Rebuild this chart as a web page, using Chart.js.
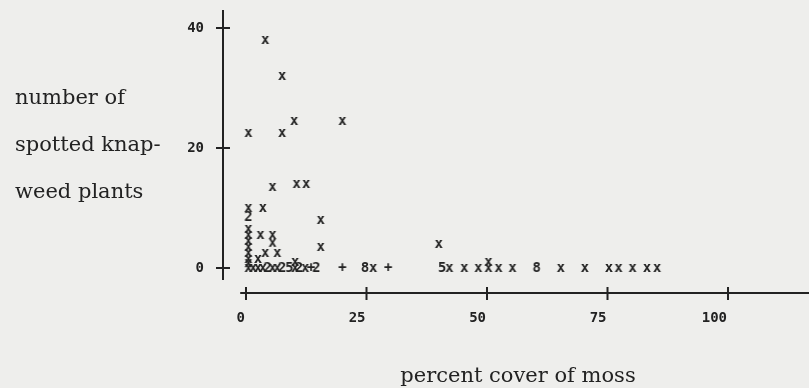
<!DOCTYPE html>
<html>
<head>
<meta charset="utf-8">
<script src="https://cdn.jsdelivr.net/npm/chart.js@4/dist/chart.umd.min.js"></script>
<style>
  html, body { margin: 0; padding: 0; background: #eeeeec; }
  #wrap { width: 809px; height: 388px; }
</style>
</head>
<body>
<div id="wrap"><canvas id="mossChart" width="809" height="388"></canvas></div>
<script>
// percent cover of moss (x), knapweed plant count (y), and the character printed at each spot
const moss = [
    4, 7.5, 0.5, 7.5, 10, 20, 5.5, 10.5, 12.5, 0.5, 3.5, 0.5, 15.5, 15.5, 40,
    0.5, 0.5, 0.5, 0.5, 0.5, 0.5, 0.5,
    3, 5.5, 5.5, 4, 6.5, 2.5,
    0.5, 1.5, 2.5, 3.5, 4.5, 5.5, 6.5, 7.5, 9, 10.2, 10.2, 11, 12.3, 13.5, 14.6,
    20, 24.7, 26.4, 29.5, 40.7, 42.2, 45.3, 48.2, 50.3, 50.3, 52.4, 55.3, 60.3,
    65.3, 70.3, 75.3, 77.3, 80.2, 83.2, 85.3
]
const plants = [
    38, 32, 22.5, 22.5, 24.5, 24.5, 13.5, 14, 14, 10, 10, 8.5, 8, 3.5, 4,
    6.5, 5.5, 4.5, 3.5, 2.5, 1.5, 0.8,
    5.5, 5.5, 4.2, 2.5, 2.5, 1.5,
    0, 0, 0, 0, 0, 0, 0, 0, 0, 0, 1, 0, 0, 0, 0,
    0, 0, 0, 0, 0, 0, 0, 0, 0, 1, 0, 0, 0,
    0, 0, 0, 0, 0, 0, 0
]
const marks = [
    'x', 'x', 'x', 'x', 'x', 'x', 'x', 'x', 'x', 'x', 'x', '2', 'x', 'x', 'x',
    'x', 'x', 'x', 'x', 'x', 'x', 'x',
    'x', 'x', 'x', 'x', 'x', 'x',
    'x', 'x', 'x', 'x', '2', 'x', 'x', '2', '5', 'x', 'x', '2', 'x', '+', '2',
    '+', '8', 'x', '+', '5', 'x', 'x', 'x', 'x', 'x', 'x', 'x', '8',
    'x', 'x', 'x', 'x', 'x', 'x', 'x'
]

const xTicks = [0, 25, 50, 75, 100]
const yTicks = [0, 20, 40]
const yTitle = ['number of', 'spotted knap-', 'weed plants']
const xTitle = 'percent cover of moss'

const ink = '#222'
const monoFont = 'bold 14px "DejaVu Sans Mono", monospace'
const serifFont = '21px "DejaVu Serif", serif'

// little canvases with the printed characters, used as point styles
const glyphs = {}
function makeGlyph(ch){
    const c = document.createElement('canvas')
    c.width = 12
    c.height = 14
    const g = c.getContext('2d')
    g.fillStyle = ink
    g.font = monoFont
    g.textAlign = 'center'
    g.textBaseline = 'middle'
    g.fillText(ch, 6, 7)
    return c
}
new Set(marks).forEach(ch => { glyphs[ch] = makeGlyph(ch) })

const axesPlugin = {
    id: 'printedAxes',
    afterDraw(chart){
        const ctx = chart.ctx
        const area = chart.chartArea
        const xs = chart.scales.x
        const ys = chart.scales.y
        ctx.save()
        ctx.strokeStyle = ink
        ctx.fillStyle = ink
        ctx.lineWidth = 2

        // y axis
        ctx.beginPath()
        ctx.moveTo(area.left, area.top)
        ctx.lineTo(area.left, ys.getPixelForValue(-2))
        yTicks.forEach(v => {
            const py = ys.getPixelForValue(v)
            ctx.moveTo(area.left - 7, py)
            ctx.lineTo(area.left + 7, py)
        })
        // x axis
        ctx.moveTo(xs.getPixelForValue(-1.2), area.bottom)
        ctx.lineTo(chart.width, area.bottom)
        xTicks.forEach(v => {
            const px = xs.getPixelForValue(v)
            ctx.moveTo(px, area.bottom - 6)
            ctx.lineTo(px, area.bottom + 7)
        })
        ctx.stroke()

        // tick labels
        ctx.font = monoFont
        ctx.textAlign = 'right'
        ctx.textBaseline = 'middle'
        yTicks.forEach(v => {
            ctx.fillText(String(v), area.left - 19, ys.getPixelForValue(v))
        })
        xTicks.forEach(v => {
            ctx.fillText(String(v), xs.getPixelForValue(v) - 1, area.bottom + 25)
        })

        // titles
        ctx.font = serifFont
        ctx.textAlign = 'left'
        ctx.textBaseline = 'alphabetic'
        yTitle.forEach((line, i) => {
            ctx.fillText(line, 15, 104 + i * 47)
        })
        ctx.textAlign = 'center'
        ctx.fillText(xTitle, 518, 382)
        ctx.restore()
    }
}

const chartElem = document.getElementById('mossChart')
const myChart = new Chart(chartElem, {
    type: 'scatter',
    data: {
        datasets: [{
            label: 'knapweed',
            data: moss.map((m, i) => ({x: m, y: plants[i]})),
            pointStyle: (c) => glyphs[marks[c.dataIndex]],
            pointRadius: 6,
            pointHoverRadius: 6
        }]
    },
    options: {
        responsive: false,
        animation: false,
        events: [],
        layout: {autoPadding: false, padding: {left: 223, right: 0, top: 10, bottom: 95}},
        plugins: {
            legend: {display: false},
            tooltip: {enabled: false}
        },
        scales: {
            x: {type: 'linear', min: -4.77, max: 116.8, display: false},
            y: {type: 'linear', min: -4.17, max: 43, display: false}
        }
    },
    plugins: [axesPlugin]
})
</script>
</body>
</html>
